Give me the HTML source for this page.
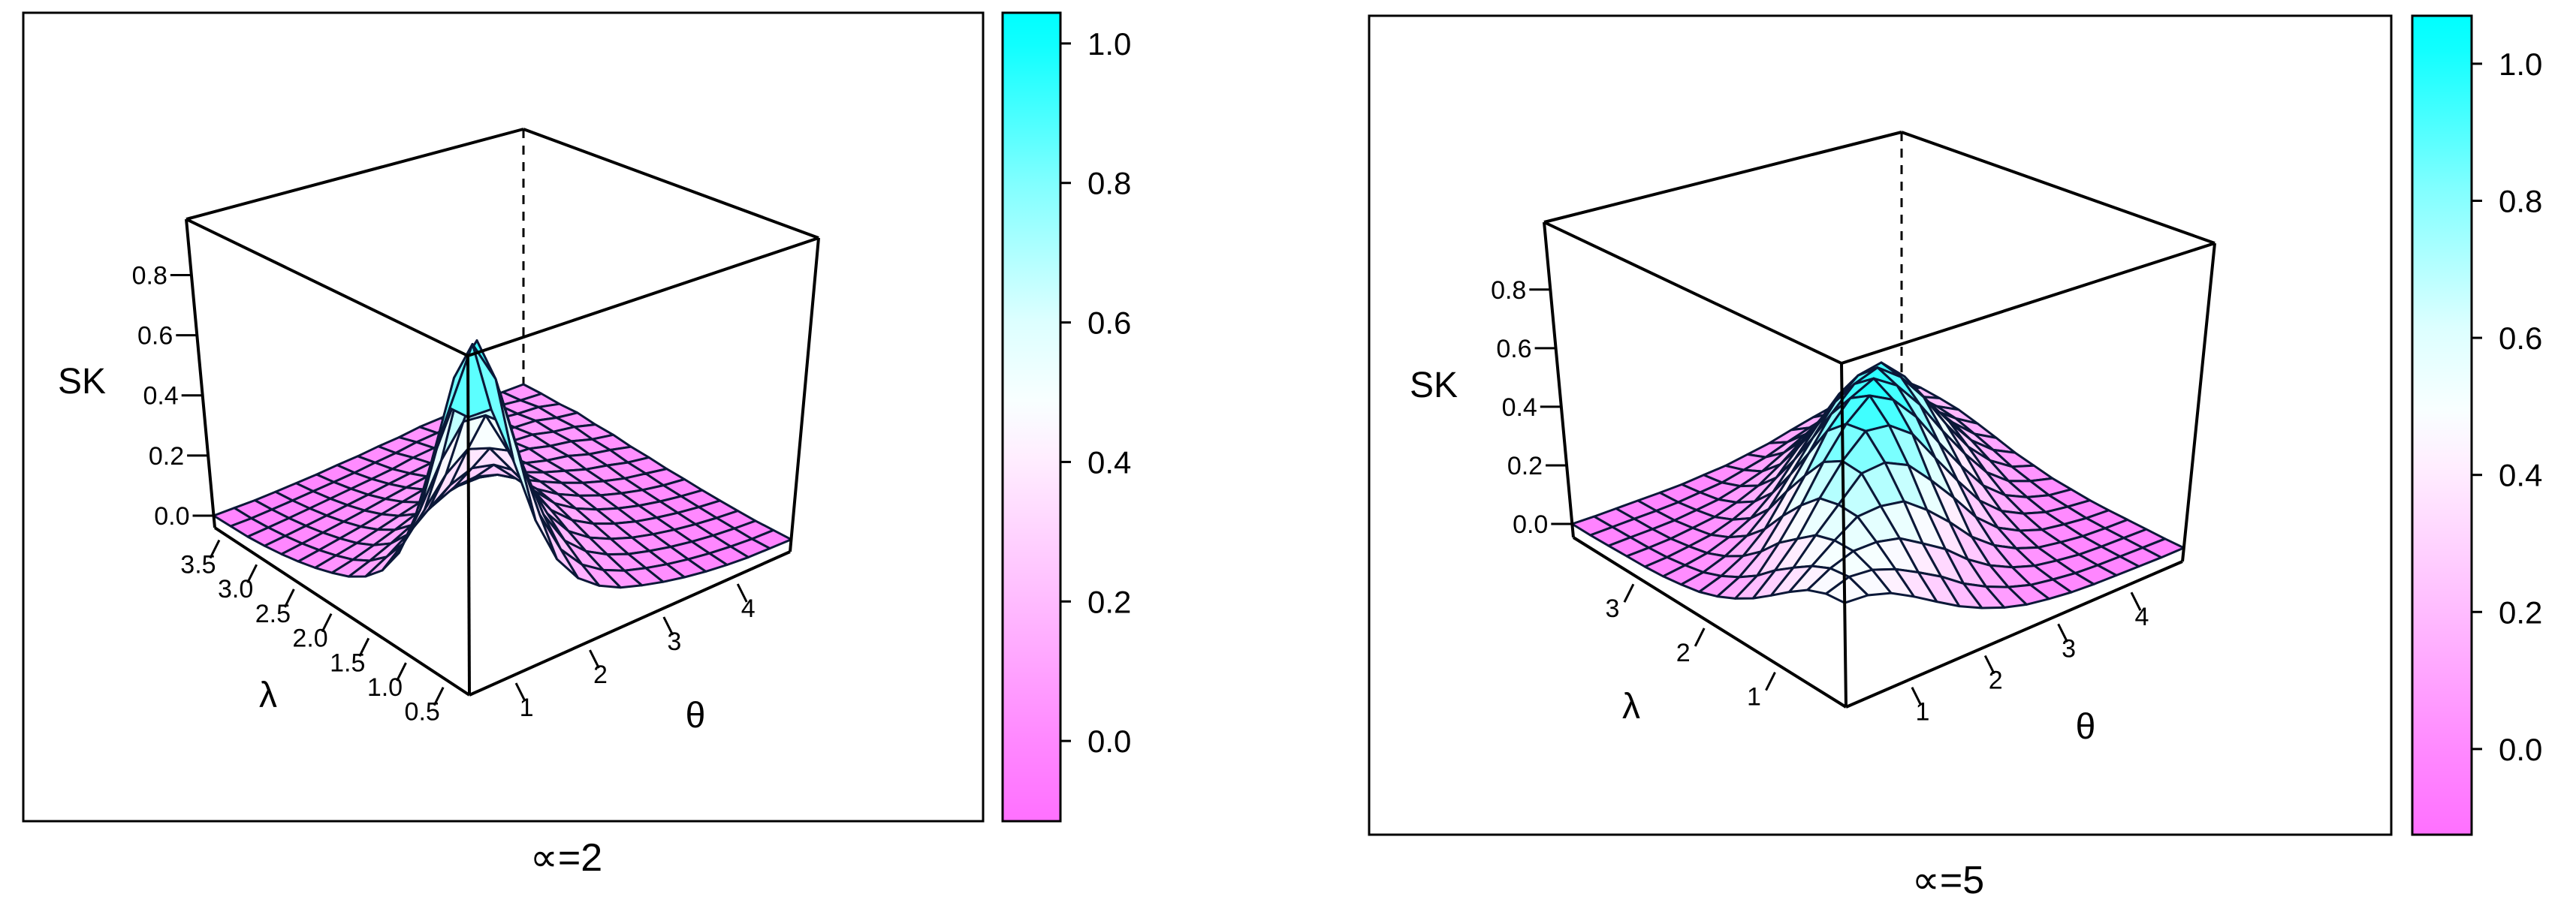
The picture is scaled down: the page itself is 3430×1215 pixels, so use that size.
<!DOCTYPE html>
<html><head><meta charset="utf-8"><style>
html,body{margin:0;padding:0;background:#fff}
svg{display:block;font-family:"Liberation Sans",sans-serif}
</style></head><body>
<svg id="svg" width="3430" height="1215" viewBox="0 0 3430 1215" xmlns="http://www.w3.org/2000/svg">
<defs>
<linearGradient id="cmap" x1="0" y1="1" x2="0" y2="0">
<stop offset="0" stop-color="#ff70ff"/><stop offset="0.1" stop-color="#ff88ff"/><stop offset="0.27" stop-color="#ffbbff"/><stop offset="0.45" stop-color="#ffeeff"/><stop offset="0.52" stop-color="#f8ffff"/><stop offset="0.62" stop-color="#dcffff"/><stop offset="0.79" stop-color="#80ffff"/><stop offset="0.96" stop-color="#10ffff"/><stop offset="1" stop-color="#00ffff"/>
</linearGradient>
</defs>
<g id="root"></g>
</svg>
<script>
// ---- data ----
const panelCaptions = ["\u221D=2", "\u221D=5"];
const zTicks = [0.0, 0.2, 0.4, 0.6, 0.8];
const lambdaTicksA = [0.5, 1.0, 1.5, 2.0, 2.5, 3.0, 3.5];
const thetaTicksA = [1, 2, 3, 4];
const lambdaTicksB = [1, 2, 3];
const thetaTicksB = [1, 2, 3, 4];
const colorbarTicks = [0.0, 0.2, 0.4, 0.6, 0.8, 1.0];
// sharp peak height along the front-to-back diagonal (index i+j) and its cross decay (index |i-j|)
const peakHeightA = [0.5,0.62,0.68,0.68,0.65,0.59,0.51,0.43,0.35,0.28,0.21,0.16,0.12,0.08,0.05,0.03,0.02,0.01,0,0,0,0,0,0,0,0,0,0,0,0,0];
const peakDecayA = [1,0.82,0.52,0.26,0.11,0.04,0.01,0,0,0,0,0,0,0,0,0];
// broad base ridge
const baseHeightA = [0.3,0.3,0.29,0.29,0.28,0.27,0.26,0.25,0.24,0.23,0.22,0.21,0.2,0.19,0.18,0.17,0.16,0.15,0.14,0.13,0.12,0.12,0.11,0.11,0.1,0.1,0.09,0.09,0.08,0.08,0.08];
const baseDecayA = [1,0.97,0.9,0.8,0.68,0.56,0.45,0.35,0.27,0.2,0.14,0.09,0.05,0.02,0.01,0];
const peakHeightB = [0,0.01,0.02,0.03,0.05,0.07,0.1,0.14,0.19,0.24,0.28,0.32,0.35,0.36,0.37,0.37,0.37,0.36,0.35,0.32,0.28,0.24,0.19,0.14,0.1,0.07,0.05,0.03,0.02,0.01,0];
const peakDecayB = [1,0.92,0.75,0.55,0.36,0.2,0.1,0.05,0.02,0.01,0,0,0,0,0,0];
const baseHeightB = [0.28,0.28,0.28,0.28,0.27,0.27,0.27,0.26,0.26,0.25,0.25,0.24,0.24,0.23,0.22,0.21,0.2,0.19,0.18,0.17,0.16,0.16,0.15,0.15,0.14,0.14,0.13,0.13,0.12,0.12,0.12];
const baseDecayB = [1,0.95,0.85,0.7,0.55,0.4,0.28,0.19,0.12,0.08,0.05,0.03,0.02,0.01,0,0];

const NS="http://www.w3.org/2000/svg";
const root=document.getElementById('root');
function mk(tag,attrs,parent){const e=document.createElementNS(NS,tag);for(const k in attrs)e.setAttribute(k,attrs[k]);(parent||root).appendChild(e);return e;}

const stops=[[0,[255,112,255]],[0.1,[255,136,255]],[0.27,[255,187,255]],[0.45,[255,238,255]],[0.52,[248,255,255]],[0.62,[220,255,255]],[0.79,[128,255,255]],[0.96,[16,255,255]],[1,[0,255,255]]];
function cm(t){t=Math.max(0,Math.min(1,t));for(let k=1;k<stops.length;k++){if(t<=stops[k][0]){const a=stops[k-1],b=stops[k];const f=(t-a[0])/(b[0]-a[0]);return 'rgb('+a[1].map((c,i)=>Math.round(c+(b[1][i]-c)*f)).join(',')+')';}}return 'rgb(0,255,255)';}

const panels=[
 {box:[31,17,1278,1077],cb:[1335,17,77,1077],cbLo:-0.115,cbHi:1.044,cap:[754,1142],
  F:[625,926],L:[286,703],R:[1052,735],B:[697,557],TF:[623,474],TL:[248,292],TR:[1090,317],TB:[697,172],
  zmin:-0.04,zmax:0.986,lam:[0.19,3.6],th:[0.41,4.75],lt:lambdaTicksA,tt:thetaTicksA,
  ph:peakHeightA,pd:peakDecayA,bh:baseHeightA,bd:baseDecayA,sk:[109,507],lamLab:[357,925],thLab:[926,952],lfmt:1},
 {box:[1823,21,1361,1091],cb:[3212,21,79,1091],cbLo:-0.125,cbHi:1.07,cap:[2594,1172],
  F:[2458,942],L:[2095,716],R:[2906,748],B:[2532,566],TF:[2452,484],TL:[2056,296],TR:[2949,324],TB:[2532,176],
  zmin:-0.046,zmax:1.03,lam:[0.04,3.89],th:[0.138,4.74],lt:lambdaTicksB,tt:thetaTicksB,
  ph:peakHeightB,pd:peakDecayB,bh:baseHeightB,bd:baseDecayB,sk:[1909,512],lamLab:[2172,940],thLab:[2777,967],lfmt:0}
];

panels.forEach((p,pi)=>{
 const g=mk('g',{});
 
 
 const lerp=(a,b,t)=>[a[0]+(b[0]-a[0])*t,a[1]+(b[1]-a[1])*t];
 const bil=(f,r,l,b,u,v)=>lerp(lerp(f,r,u),lerp(l,b,u),v);
 const proj=(u,v,z)=>{const w=(z-p.zmin)/(p.zmax-p.zmin);return lerp(bil(p.F,p.R,p.L,p.B,u,v),bil(p.TF,p.TR,p.TL,p.TB,u,v),w);};
 const fr=mk('rect',{x:p.box[0],y:p.box[1],width:p.box[2],height:p.box[3],fill:'none',stroke:'#000','stroke-width':3},g);
 
 
 const dl=mk('line',{x1:p.TB[0],y1:p.TB[1],x2:p.B[0],y2:p.B[1],stroke:'#000','stroke-width':3,'stroke-dasharray':'12,10'},g);
 
 
 const N=16;
 const Z=[];let zhi=0;
 for(let i=0;i<N;i++){Z.push([]);for(let j=0;j<N;j++){const d=Math.abs(i-j);const z=p.ph[i+j]*p.pd[d]+p.bh[i+j]*p.bd[d];Z[i].push(z);zhi=Math.max(zhi,z);}}
 const cells=[];for(let i=0;i<N-1;i++)for(let j=0;j<N-1;j++)cells.push([i,j]);
 cells.sort((a,b)=>(b[0]+b[1])-(a[0]+a[1]));
 const sg=mk('g',{},g);
 
 
 cells.forEach(([i,j])=>{
  const pts=[[i,j],[i+1,j],[i+1,j+1],[i,j+1]].map(([a,b])=>proj(a/(N-1),b/(N-1),Z[a][b]));
  const zm=(Z[i][j]+Z[i+1][j]+Z[i+1][j+1]+Z[i][j+1])/4;
  const poly=mk('polygon',{points:pts.map(q=>q[0].toFixed(1)+','+q[1].toFixed(1)).join(' '),fill:cm(0.08+0.88*zm/zhi),stroke:'#0b1838','stroke-width':3,'stroke-linejoin':'round'},sg);
  
  
 });
 [[p.F,p.TF],[p.TF,p.TL],[p.TF,p.TR],[p.TL,p.TB],[p.TR,p.TB],[p.L,p.TL],[p.R,p.TR],[p.F,p.L],[p.F,p.R]].forEach(e=>{
  const ln=mk('line',{x1:e[0][0],y1:e[0][1],x2:e[1][0],y2:e[1][1],stroke:'#000','stroke-width':4},g);
  
  
 });
 zTicks.forEach(z=>{
  const w=(z-p.zmin)/(p.zmax-p.zmin);const q=lerp(p.L,p.TL,w);
  const t=mk('line',{x1:q[0],y1:q[1],x2:q[0]-28,y2:q[1],stroke:'#000','stroke-width':3},g);
  
  
  const tx=mk('text',{x:q[0]-32,y:q[1]+12,'text-anchor':'end','font-size':34},g);tx.textContent=z.toFixed(1);
  
  
 });
 p.lt.forEach(v=>{
  const f=(v-p.lam[0])/(p.lam[1]-p.lam[0]);const q=lerp(p.F,p.L,f);
  const a=[q[0]-4,q[1]+10];
  const t=mk('line',{x1:a[0],y1:a[1],x2:a[0]-12,y2:a[1]+24,stroke:'#000','stroke-width':3},g);
  
  
  const tx=mk('text',{x:q[0]-32,y:q[1]+54,'text-anchor':'middle','font-size':34},g);tx.textContent=p.lfmt?v.toFixed(1):String(v);
  
  
 });
 p.tt.forEach(v=>{
  const f=(v-p.th[0])/(p.th[1]-p.th[0]);const q=lerp(p.F,p.R,f);
  const a=[q[0]+4,q[1]+10];
  const t=mk('line',{x1:a[0],y1:a[1],x2:a[0]+12,y2:a[1]+24,stroke:'#000','stroke-width':3},g);
  
  
  const tx=mk('text',{x:q[0]+18,y:q[1]+54,'text-anchor':'middle','font-size':34},g);tx.textContent=String(v);
  
  
 });
 const titles=[['SK',p.sk,'z-axis-title'],['\u03BB',p.lamLab,'lambda-axis-title'],['\u03B8',p.thLab,'theta-axis-title']];
 titles.forEach(([s,pos,nm])=>{
  const tx=mk('text',{x:pos[0],y:pos[1]+17,'text-anchor':'middle','font-size':48},g);tx.textContent=s;
  
  
 });
 const cbr=mk('rect',{x:p.cb[0],y:p.cb[1],width:p.cb[2],height:p.cb[3],fill:'url(#cmap)',stroke:'#000','stroke-width':3},g);
 
 
 colorbarTicks.forEach(v=>{
  const y=p.cb[1]+p.cb[3]*(p.cbHi-v)/(p.cbHi-p.cbLo);const x=p.cb[0]+p.cb[2];
  const t=mk('line',{x1:x,y1:y,x2:x+14,y2:y,stroke:'#000','stroke-width':3},g);
  
  
  const tx=mk('text',{x:x+36,y:y+15,'font-size':42},g);tx.textContent=v.toFixed(1);
  
  
 });
 const cap=mk('text',{x:p.cap[0],y:p.cap[1]+18,'text-anchor':'middle','font-size':52},g);cap.textContent=panelCaptions[pi];
 
 
});
</script>
</body></html>
